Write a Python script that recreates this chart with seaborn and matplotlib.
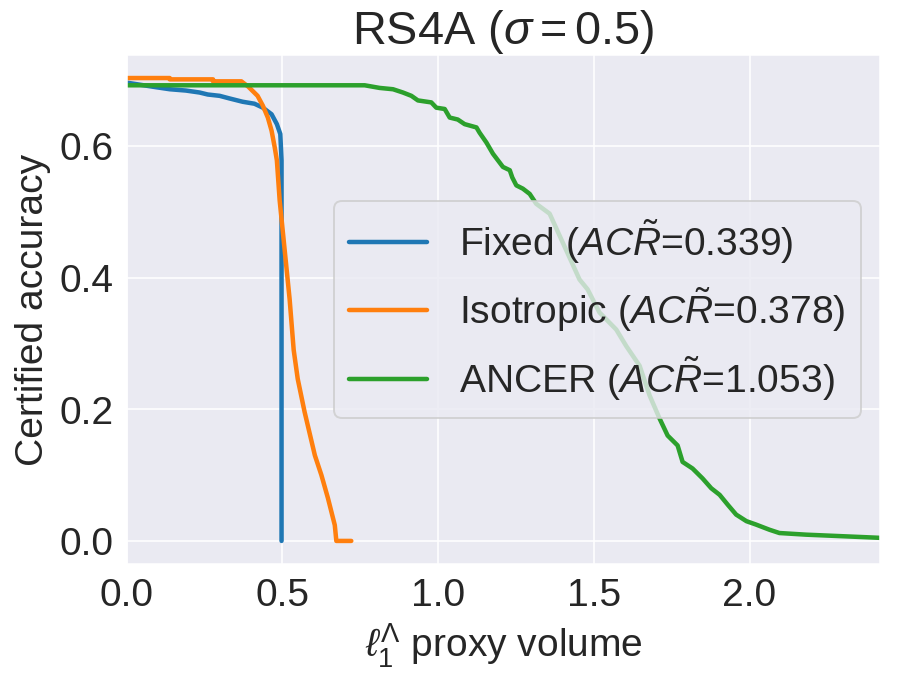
import matplotlib
matplotlib.use("Agg")
import matplotlib.pyplot as plt
import seaborn as sns

# --- data (proxy volume vs certified accuracy) ---
fixed_x = [0.0, 0.095, 0.138, 0.19, 0.234, 0.26, 0.298, 0.33, 0.372, 0.41,
           0.437, 0.465, 0.482, 0.493, 0.497, 0.497]
fixed_y = [0.696, 0.689, 0.686, 0.684, 0.681, 0.678, 0.676, 0.672, 0.667, 0.664,
           0.658, 0.648, 0.633, 0.618, 0.578, 0.0]

iso_x = [0.0, 0.138, 0.138, 0.277, 0.277, 0.368, 0.39, 0.405, 0.42, 0.437,
         0.453, 0.465, 0.475, 0.482, 0.491, 0.507, 0.523, 0.536, 0.549, 0.571,
         0.604, 0.625, 0.646, 0.668, 0.673, 0.721]
iso_y = [0.703, 0.703, 0.701, 0.701, 0.698, 0.698, 0.69, 0.683, 0.676, 0.661,
         0.643, 0.623, 0.598, 0.578, 0.517, 0.442, 0.367, 0.29, 0.246, 0.196,
         0.13, 0.10, 0.065, 0.024, 0.0, 0.0]

ancer_x = [0.0, 0.764, 0.812, 0.855, 0.887, 0.914, 0.935, 0.978, 0.994, 1.021,
           1.037, 1.063, 1.085, 1.123, 1.133, 1.155, 1.176, 1.192, 1.208, 1.230,
           1.238, 1.251, 1.272, 1.294, 1.315, 1.358, 1.406, 1.454, 1.480, 1.518,
           1.572, 1.604, 1.647, 1.679, 1.711, 1.737, 1.769, 1.785, 1.817, 1.849,
           1.877, 1.904, 1.930, 1.957, 1.990, 2.020, 2.064, 2.096, 2.182, 2.375,
           2.50]
ancer_y = [0.692, 0.692, 0.688, 0.686, 0.681, 0.676, 0.669, 0.666, 0.658, 0.656,
           0.643, 0.640, 0.633, 0.628, 0.620, 0.605, 0.588, 0.578, 0.568, 0.563,
           0.552, 0.540, 0.535, 0.527, 0.512, 0.497, 0.447, 0.397, 0.382, 0.347,
           0.321, 0.296, 0.266, 0.221, 0.186, 0.160, 0.145, 0.120, 0.110, 0.095,
           0.080, 0.070, 0.055, 0.040, 0.030, 0.025, 0.017, 0.012, 0.0095, 0.0056,
           0.003]

labels = [r"Fixed ($AC\tilde{R}$=0.339)",
          r"Isotropic ($AC\tilde{R}$=0.378)",
          r"ANCER ($AC\tilde{R}$=1.053)"]

sns.set_style("darkgrid")
plt.rcParams["font.family"] = ["Liberation Sans", "DejaVu Sans"]
plt.rcParams["mathtext.fontset"] = "custom"
plt.rcParams["mathtext.rm"] = "Liberation Sans"
plt.rcParams["mathtext.it"] = "Liberation Sans:italic"
plt.rcParams["font.size"] = 20

fig, ax = plt.subplots(figsize=(6.4, 4.8), dpi=140.5)
palette = sns.color_palette("tab10")

series = [(fixed_x, fixed_y), (iso_x, iso_y), (ancer_x, ancer_y)]
for (xs, ys), lab, col in zip(series, labels, palette):
    sns.lineplot(x=xs, y=ys, ax=ax, sort=False, estimator=None,
                 color=col, linewidth=2.3, label=lab)

ax.set_xlim(0, 2.42)
ax.set_title(r"RS4A ($\sigma = 0.5$)", fontsize=24)
ax.set_xlabel(r"$\ell_1^\Lambda$ proxy volume", fontsize=20)
ax.set_ylabel("Certified accuracy", fontsize=20)
ax.tick_params(labelsize=20)
ax.legend(loc="center right", fontsize=20)

fig.subplots_adjust(left=0.141, right=0.979, top=0.918, bottom=0.163)
fig.savefig("out.png")
